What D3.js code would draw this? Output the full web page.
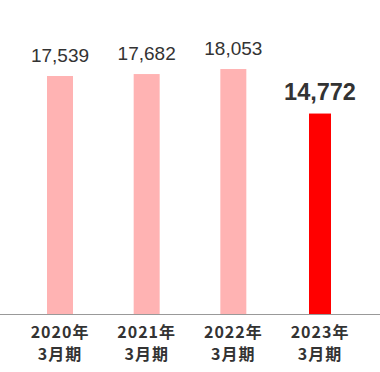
<!DOCTYPE html>
<html lang="ja">
  <head>
    <meta charset="utf-8">
    <script src="https://d3js.org/d3.v7.min.js"></script>
    <style>
      html, body { margin: 0; padding: 0; background: #fff; }
      svg { display: block; }
    </style>
  </head>
  <body>
    <svg id="chart"></svg>
    <script>
      // data
      const years = ['2020年', '2021年', '2022年', '2023年'];
      const periods = ['3月期', '3月期', '3月期', '3月期'];
      const values = [17539, 17682, 18053, 14772];
      const highlight = [false, false, false, true];

      const width = 380;
      const height = 372;
      const baseline = 314;

      const svg = d3.select('#chart')
        .attr('width', width)
        .attr('height', height);

      const x = d3.scalePoint()
        .domain(years)
        .range([60, 320]);

      const y = d3.scaleLinear()
        .domain([0, 20000])
        .range([baseline, 42.6]);

      const fmt = d3.format(',');

      const bar = svg.selectAll('g.bar')
        .data(values)
        .enter().append('g')
          .attr('class', 'bar')
          .attr('transform', (d, i) => 'translate(' + x(years[i]) + ',0)');

      bar.append('rect')
        .attr('x', (d, i) => highlight[i] ? -11 : -13)
        .attr('width', (d, i) => highlight[i] ? 22 : 26)
        .attr('y', d => y(d))
        .attr('height', d => baseline - y(d))
        .attr('fill', (d, i) => highlight[i] ? '#ff0000' : '#ffb3b3');

      bar.append('text')
        .attr('text-anchor', 'middle')
        .attr('y', (d, i) => y(d) - (highlight[i] ? 13.5 : 14.3))
        .attr('fill', '#333')
        .style('font-family', '"Liberation Sans", Arial, sans-serif')
        .style('font-size', (d, i) => highlight[i] ? '23.5px' : '19px')
        .style('font-weight', (d, i) => highlight[i] ? 'bold' : 'normal')
        .text(d => fmt(d));

      // axis line
      svg.append('line')
        .attr('x1', 0).attr('x2', width)
        .attr('y1', baseline + 0.5).attr('y2', baseline + 0.5)
        .attr('stroke', '#999')
        .attr('stroke-width', 1.2);

      const lab = bar.append('text')
        .attr('text-anchor', 'middle')
        .attr('fill', '#333')
        .style('font-family', '"Noto Sans CJK JP", sans-serif')
        .style('font-size', '16px')
        .style('font-weight', 'bold')
        .style('letter-spacing', '1px');

      lab.append('tspan')
        .attr('x', 0)
        .attr('y', 338)
        .text((d, i) => years[i]);

      lab.append('tspan')
        .attr('x', 0)
        .attr('y', 360)
        .text((d, i) => periods[i]);
    </script>
  </body>
</html>
